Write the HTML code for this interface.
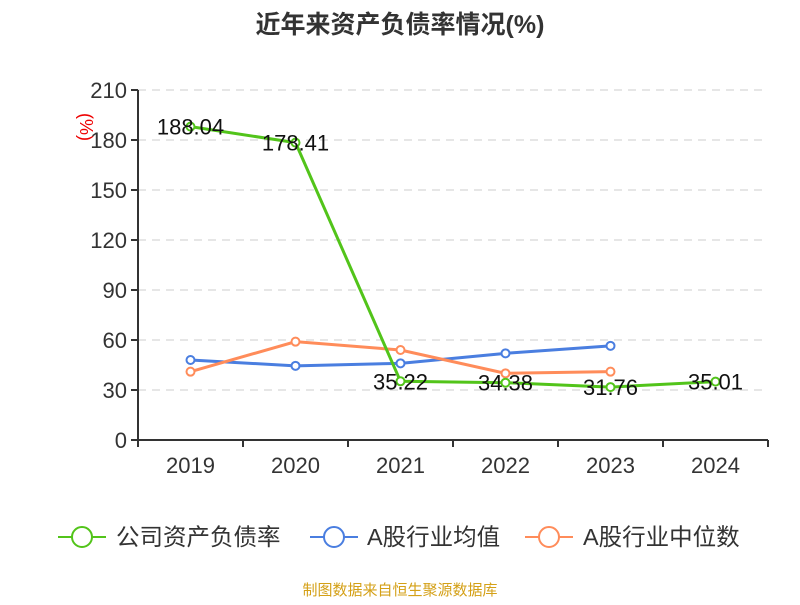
<!DOCTYPE html>
<html><head><meta charset="utf-8"><style>
html,body{margin:0;padding:0;background:#fff}
svg text{font-family:"Liberation Sans","Noto Sans CJK SC",sans-serif}
</style></head><body>
<svg id="c" width="800" height="600" xmlns="http://www.w3.org/2000/svg">
<text x="400" y="33" text-anchor="middle" font-size="25" font-weight="bold" fill="#333">近年来资产负债率情况(%)</text>
<text transform="translate(80,127) rotate(90)" text-anchor="middle" font-size="18" fill="#e00">(%)</text>
<g id="grid"></g><g id="axes"></g><g id="series"></g>
<g>
<g><line x1="58" y1="537" x2="106" y2="537" stroke="#52c41a" stroke-width="2"/><circle cx="82" cy="537" r="10" fill="#fff" stroke="#52c41a" stroke-width="2"/><text x="116" y="545" font-size="23.5" fill="#333">公司资产负债率</text></g>
<g><line x1="310" y1="537" x2="358" y2="537" stroke="#4a7ee0" stroke-width="2"/><circle cx="334" cy="537" r="10" fill="#fff" stroke="#4a7ee0" stroke-width="2"/><text x="367" y="545" font-size="23.5" fill="#333">A股行业均值</text></g>
<g><line x1="525" y1="537" x2="573" y2="537" stroke="#ff8c5a" stroke-width="2"/><circle cx="549" cy="537" r="10" fill="#fff" stroke="#ff8c5a" stroke-width="2"/><text x="583" y="545" font-size="23.5" fill="#333">A股行业中位数</text></g>
</g>
<text x="400" y="595" text-anchor="middle" font-size="15" fill="#d4a017">制图数据来自恒生聚源数据库</text>
</svg>
<script>
const categories=["2019","2020","2021","2022","2023","2024"];
const companyValues=[188.04,178.41,35.22,34.38,31.76,35.01];
const industryAvg=[48,44.5,46,52,56.5,null];
const industryMedian=[41,59,54,40,41,null];
const yTicks=[0,30,60,90,120,150,180,210];
const NS="http://www.w3.org/2000/svg";
const L=138,R=768,T=90,B=440,ymax=210;
const bw=(R-L)/categories.length;
const x=i=>L+bw*(i+0.5);
const y=v=>B-(v/ymax)*(B-T);
function mk(p,tag,a){const e=document.createElementNS(NS,tag);for(const k in a)e.setAttribute(k,a[k]);p.appendChild(e);return e;}
const grid=document.getElementById('grid'),axes=document.getElementById('axes'),ser=document.getElementById('series');
yTicks.forEach(t=>{
 if(t>0){const g=mk(grid,'line',{x1:L,x2:R,y1:y(t),y2:y(t),stroke:'#ccc','stroke-dasharray':'8,6'});
 
 }
 const tk=mk(axes,'line',{x1:L-7,x2:L,y1:y(t),y2:y(t),stroke:'#333','stroke-width':2});
 
 
 const tx=mk(axes,'text',{x:L-11,y:y(t)+8,'text-anchor':'end','font-size':22,fill:'#333'});tx.textContent=t;
 
 
});
const ya=mk(axes,'line',{x1:L,x2:L,y1:T,y2:B,stroke:'#333','stroke-width':2});


const xa=mk(axes,'line',{x1:L,x2:R,y1:B,y2:B,stroke:'#333','stroke-width':2});


for(let i=0;i<=categories.length;i++){const tk=mk(axes,'line',{x1:L+bw*i,x2:L+bw*i,y1:B,y2:B+7,stroke:'#333','stroke-width':2});
 
 }
categories.forEach((c,i)=>{const t=mk(axes,'text',{x:x(i),y:B+33,'text-anchor':'middle','font-size':22,fill:'#333'});t.textContent=c;
 
 });
function series(vals,color,name,labels){
 const pts=[];vals.forEach((v,i)=>{if(v!=null)pts.push([x(i),y(v),v]);});
 const pl=mk(ser,'polyline',{points:pts.map(p=>p[0]+','+p[1]).join(' '),fill:'none',stroke:color,'stroke-width':3});
 
 
 pts.forEach(p=>{const c=mk(ser,'circle',{cx:p[0],cy:p[1],r:4,fill:'#fff',stroke:color,'stroke-width':2});
  
  
  if(labels){const t=mk(ser,'text',{x:p[0],y:p[1]+8,'text-anchor':'middle','font-size':22,fill:'#111'});t.textContent=p[2].toFixed(2);
   
   }
 });
}
series(industryAvg,'#4a7ee0','industry-avg',false);
series(industryMedian,'#ff8c5a','industry-median',false);
series(companyValues,'#52c41a','company',true);
</script>
</body></html>
